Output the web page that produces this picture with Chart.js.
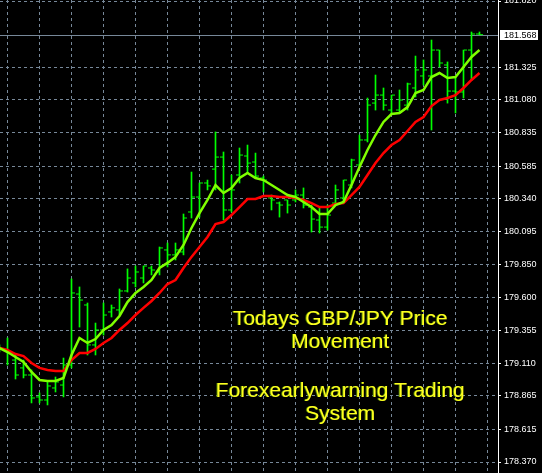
<!DOCTYPE html>
<html>
<head>
    <title>GBP/JPY Price Movement</title>
    <style>
        body { margin: 0; background: #000; overflow: hidden; }
        #wrap { width: 542px; height: 473px; position: relative; }
    </style>
</head>
<body>
    <div id="wrap"><canvas id="chart"></canvas></div>

    <script src="https://cdn.jsdelivr.net/npm/chart.js"></script>
    <script>
        // Bar index (first one sits just off the left edge)
        const barIndex = [];
        for (let k = -1; k <= 59; k++) barIndex.push(k);

        // OHLC
        const opens = [179.223, 179.208, 179.133, 179.074, 179.021, 178.857, 178.834, 178.924, 178.946, 179.096,
            179.627, 179.545, 179.246, 179.358, 179.493, 179.508, 179.650, 179.710, 179.747, 179.822,
            179.792, 179.957, 179.920, 179.942, 180.241, 180.353, 180.458, 180.562, 180.652, 180.256,
            180.518, 180.660, 180.615, 180.495, 180.346, 180.308, 180.331, 180.331, 180.368, 180.278,
            180.181, 180.128, 180.308, 180.346, 180.443, 180.593, 180.780, 181.056, 181.116, 181.004,
            181.004, 181.041, 181.169, 181.259, 181.259, 181.453, 181.341, 181.146, 181.139, 181.453, 181.573];
        const highs = [179.246, 179.298, 179.171, 179.133, 179.059, 178.887, 178.969, 179.006, 179.148, 179.740,
            179.680, 179.560, 179.410, 179.560, 179.545, 179.665, 179.815, 179.837, 179.837, 179.837,
            179.979, 180.009, 180.009, 180.226, 180.540, 180.458, 180.480, 180.840, 180.690, 180.518,
            180.720, 180.742, 180.682, 180.510, 180.368, 180.316, 180.331, 180.406, 180.421, 180.293,
            180.271, 180.293, 180.443, 180.480, 180.637, 180.817, 181.094, 181.266, 181.169, 181.116,
            181.154, 181.206, 181.408, 181.379, 181.528, 181.453, 181.364, 181.244, 181.453, 181.588, 181.588];
        const lows = [179.193, 179.096, 178.991, 178.999, 178.812, 178.812, 178.797, 178.894, 178.857, 179.074,
            179.380, 179.171, 179.171, 179.320, 179.455, 179.470, 179.642, 179.680, 179.710, 179.770,
            179.770, 179.830, 179.882, 179.920, 180.196, 180.203, 180.406, 180.406, 180.181, 180.241,
            180.458, 180.533, 180.495, 180.391, 180.256, 180.203, 180.233, 180.316, 180.271, 180.091,
            180.084, 180.106, 180.293, 180.316, 180.421, 180.578, 180.765, 181.004, 181.004, 180.982,
            180.982, 181.004, 181.102, 181.191, 180.855, 181.326, 181.056, 180.982, 181.094, 181.229, 181.566];
        const closes = [179.216, 179.193, 179.021, 179.021, 178.849, 178.834, 178.939, 178.969, 179.096, 179.635,
            179.582, 179.246, 179.358, 179.470, 179.523, 179.650, 179.747, 179.792, 179.837, 179.807,
            179.972, 179.920, 179.957, 180.196, 180.353, 180.458, 180.436, 180.652, 180.256, 180.406,
            180.667, 180.607, 180.510, 180.480, 180.331, 180.293, 180.293, 180.368, 180.293, 180.188,
            180.128, 180.218, 180.406, 180.480, 180.630, 180.780, 181.041, 181.116, 181.041, 181.116,
            181.079, 181.199, 181.304, 181.304, 181.453, 181.356, 181.146, 181.139, 181.453, 181.573, 181.568];

        // Moving averages
        const fastMA = [179.223, 179.193, 179.156, 179.118, 179.044, 178.984, 178.976, 178.976, 178.999, 179.171,
            179.298, 179.261, 179.290, 179.358, 179.395, 179.463, 179.567, 179.635, 179.680, 179.732,
            179.822, 179.860, 179.905, 179.994, 180.121, 180.233, 180.331, 180.443, 180.383, 180.421,
            180.495, 180.533, 180.495, 180.480, 180.443, 180.406, 180.368, 180.353, 180.316, 180.278,
            180.226, 180.226, 180.293, 180.316, 180.443, 180.578, 180.705, 180.817, 180.915, 180.974,
            180.982, 181.026, 181.131, 181.154, 181.251, 181.281, 181.244, 181.251, 181.326, 181.401, 181.453];
        const slowMA = [179.223, 179.208, 179.178, 179.163, 179.111, 179.074, 179.059, 179.051, 179.051, 179.133,
            179.186, 179.186, 179.216, 179.261, 179.298, 179.358, 179.410, 179.470, 179.523, 179.575,
            179.635, 179.702, 179.732, 179.822, 179.905, 179.979, 180.054, 180.151, 180.166, 180.218,
            180.278, 180.338, 180.338, 180.361, 180.361, 180.353, 180.353, 180.346, 180.331, 180.308,
            180.278, 180.278, 180.301, 180.308, 180.368, 180.428, 180.518, 180.607, 180.682, 180.742,
            180.780, 180.847, 180.915, 180.952, 181.034, 181.079, 181.094, 181.116, 181.169, 181.229, 181.281];

        // Price scale labels, bid line and the caption
        const priceTicks = [181.820, 181.325, 181.080, 180.835, 180.585, 180.340, 180.095,
            179.850, 179.600, 179.355, 179.110, 178.865, 178.615, 178.370];
        const bidPrice = 181.568;
        const captionLines = ['Todays GBP/JPY Price', 'Movement', '', 'Forexearlywarning Trading', 'System'];

        const gridColor = '#778899';

        const rangeData = barIndex.map((k, i) => ({ x: k, y: [lows[i], highs[i]] }));
        const openData = barIndex.map((k, i) => ({ x: k - 0.25, y: opens[i] }));
        const closeData = barIndex.map((k, i) => ({ x: k + 0.25, y: closes[i] }));
        const fastData = barIndex.map((k, i) => ({ x: k, y: fastMA[i] }));
        const slowData = barIndex.map((k, i) => ({ x: k, y: slowMA[i] }));

        // Bid line + label box, and the yellow caption
        const overlay = {
            id: 'overlay',
            beforeDatasetsDraw(chart) {
                const { ctx, chartArea, scales } = chart;
                const y = Math.round(scales.y.getPixelForValue(bidPrice)) + 0.5;
                ctx.save();
                ctx.strokeStyle = gridColor;
                ctx.lineWidth = 1;
                ctx.beginPath();
                ctx.moveTo(chartArea.left, y);
                ctx.lineTo(chartArea.right, y);
                ctx.stroke();
                ctx.restore();
            },
            afterDraw(chart) {
                const { ctx, chartArea, scales } = chart;
                const y = scales.y.getPixelForValue(bidPrice);
                ctx.save();
                ctx.fillStyle = '#fff';
                ctx.fillRect(chartArea.right + 2, Math.round(y) - 5, 38, 10);
                ctx.fillStyle = '#000';
                ctx.font = '9px "Liberation Sans", Arial, sans-serif';
                ctx.textBaseline = 'middle';
                ctx.fillText(bidPrice.toFixed(3), chartArea.right + 6, y + 0.5);

                // caption, centred over bar 42
                const cx = scales.x.getPixelForValue(41.6);
                ctx.font = '21px "Liberation Sans", Arial, sans-serif';
                ctx.textAlign = 'center';
                ctx.textBaseline = 'alphabetic';
                let base = 325;
                captionLines.forEach(line => {
                    if (line) {
                        ctx.fillStyle = '#4a7a00';
                        ctx.fillText(line, cx - 1, base);
                        ctx.fillStyle = '#ffff20';
                        ctx.fillText(line, cx, base);
                        base += 23;
                    } else {
                        base += 26;
                    }
                });
                ctx.restore();
            }
        };

        const ctx = document.getElementById('chart').getContext('2d');
        const chart = new Chart(ctx, {
            type: 'bar',
            data: {
                datasets: [
                    {
                        type: 'line', label: 'fast', data: fastData, borderColor: '#80ff00',
                        borderWidth: 2.5, pointRadius: 0, tension: 0, order: 0
                    },
                    {
                        type: 'line', label: 'slow', data: slowData, borderColor: '#ff0000',
                        borderWidth: 2.5, pointRadius: 0, tension: 0, order: 1
                    },
                    {
                        type: 'line', label: 'open', data: openData, showLine: false,
                        pointStyle: 'line', pointRadius: 1.5, borderColor: '#00ff00', borderWidth: 1, order: 2
                    },
                    {
                        type: 'line', label: 'close', data: closeData, showLine: false,
                        pointStyle: 'line', pointRadius: 1.5, borderColor: '#00ff00', borderWidth: 1, order: 2
                    },
                    {
                        label: 'range', data: rangeData, backgroundColor: '#00ff00',
                        barThickness: 1, borderSkipped: false, order: 3
                    }
                ]
            },
            options: {
                responsive: true,
                maintainAspectRatio: false,
                animation: false,
                layout: { padding: 0, autoPadding: false },
                plugins: { legend: { display: false }, tooltip: { enabled: false } },
                scales: {
                    x: {
                        type: 'linear',
                        offset: false,
                        min: -0.9375,
                        max: 61.3125,
                        grid: { color: gridColor, drawTicks: false, offset: false },
                        border: { display: false, dash: [3, 3] },
                        ticks: { display: false },
                        afterBuildTicks: s => {
                            const t = [];
                            for (let v = 0; v <= 60; v += 4) t.push({ value: v });
                            s.ticks = t;
                        },
                        afterFit: s => { s.height = 0; s.paddingLeft = 0; s.paddingRight = 0; }
                    },
                    y: {
                        position: 'right',
                        min: 178.2877,
                        max: 181.8275,
                        grid: { color: gridColor, tickLength: 3, tickColor: '#ffffff' },
                        border: { display: true, color: '#ffffff', width: 1, dash: [3, 3] },
                        ticks: {
                            color: '#ffffff',
                            padding: 3,
                            font: { family: '"Liberation Sans", Arial, sans-serif', size: 9 },
                            callback: v => Number(v).toFixed(3)
                        },
                        afterBuildTicks: s => { s.ticks = priceTicks.map(v => ({ value: v })); },
                        afterFit: s => { s.width = 44; s.paddingTop = 0; s.paddingBottom = 0; }
                    }
                }
            },
            plugins: [overlay]
        });
    </script>
</body>
</html>
